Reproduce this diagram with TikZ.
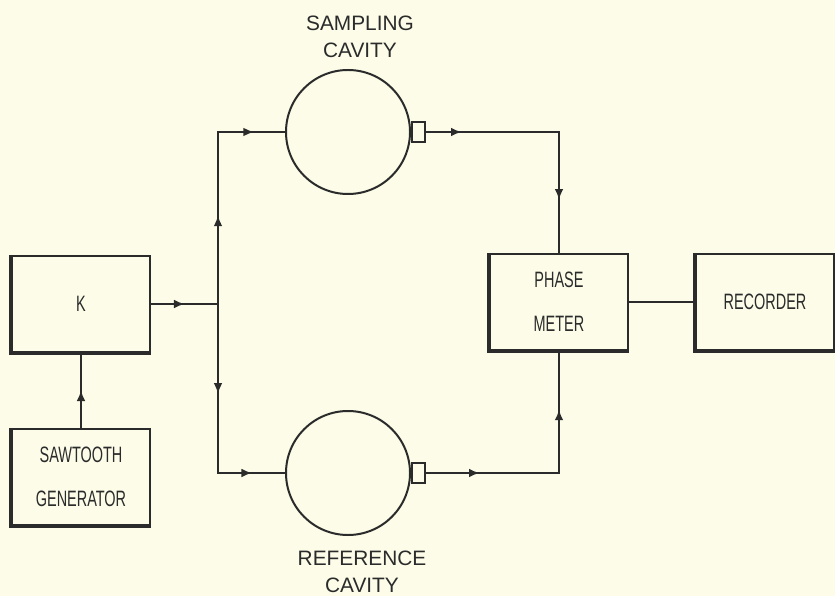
\documentclass[tikz,border=0pt]{standalone}
\usepackage{fontspec}
\setmainfont{Liberation Sans}
\newfontfamily\narrowfont[FakeStretch=0.65]{Liberation Sans}
\usetikzlibrary{positioning,arrows.meta,decorations.markings}

\definecolor{paper}{HTML}{FCFCE8}
\definecolor{ink}{HTML}{2B2B2B}

\tikzset{
  unit/.style={draw=ink, line width=1.7pt, minimum width=4.14cm, minimum height=2.88cm,
    inner sep=0pt, align=center, text=ink, font=\narrowfont\fontsize{19}{37.5}\selectfont},
  cavity/.style={draw=ink, circle, line width=1.7pt, minimum size=3.72cm, inner sep=0pt},
  port/.style={draw=ink, line width=1.7pt, minimum width=0.39cm, minimum height=0.6cm, inner sep=0pt},
  caption/.style={align=center, text=ink, font=\fontsize{17.8}{23}\selectfont},
  wire/.style={draw=ink, line width=1.7pt},
  arrowat/.style={postaction={decorate, decoration={markings,
    mark=at position #1 with {\arrow{Latex[length=9pt,width=7.5pt]}}}}}
}

\begin{document}
\begin{tikzpicture}[x=0.03cm, y=-0.03cm]

  \fill[paper] (0,0) rectangle (835,596);
  \useasboundingbox (0,0) rectangle (835,596);


  \node[unit] (k) at (81,304) {K};

  \node[unit] (saw) at (81,477) {SAWTOOTH\\GENERATOR};

  \node[unit] (phase) at (559,302) {PHASE\\METER};

  \node[unit] (rec) at (765,302) {RECORDER};

  \foreach \b in {k,saw,phase,rec}
    \draw[ink, line width=4pt] (\b.north west) -- (\b.south west) -- (\b.south east);


  \node[cavity] (scav) at (348,132) {};
  \node[port, right=0pt of scav] (sport) {};

  \node[cavity] (rcav) at (348,473) {};
  \node[port, right=0pt of rcav] (rport) {};

  \node[caption] (slabel) at (360,37) {SAMPLING\\CAVITY};

  \node[caption] (rlabel) at (362,572) {REFERENCE\\CAVITY};

  \coordinate (jn) at (218,304);


  \draw[wire, arrowat=0.5] (saw.north) -- (k.south);

  \draw[wire, arrowat=0.5] (k.east) -- (jn);

  \draw[wire, arrowat=0.37, arrowat=0.87] (jn) |- (scav.west);
  \draw[wire, arrowat=0.38, arrowat=0.86] (jn) |- (rcav.west);

  \draw[wire, arrowat=0.14, arrowat=0.79] (sport.east) -| (phase.north);
  \draw[wire, arrowat=0.21, arrowat=0.77] (rport.east) -| (phase.south);

  \draw[wire] (phase.east) -- (rec.west);


\end{tikzpicture}
\end{document}
